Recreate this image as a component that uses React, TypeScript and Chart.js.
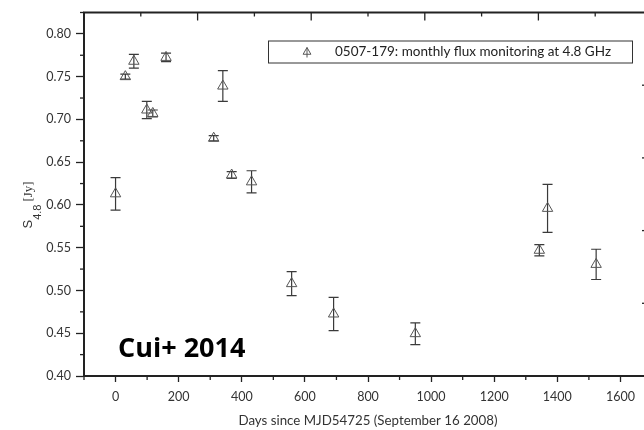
import React, { useEffect, useRef } from "react";
import { Chart, registerables } from "chart.js";

Chart.register(...registerables);

// ---- data ----
const days = [0, 31, 58, 99, 118, 160, 311, 340, 368, 431, 558, 691, 950, 1343, 1369, 1523];
const flux = [0.613, 0.75, 0.768, 0.711, 0.707, 0.7725, 0.678, 0.739, 0.635, 0.627, 0.508, 0.4725, 0.4495, 0.547, 0.596, 0.5305];
const fluxErr = [0.019, 0.003, 0.008, 0.01, 0.004, 0.005, 0.003, 0.018, 0.004, 0.013, 0.014, 0.0195, 0.0127, 0.0066, 0.028, 0.0177];

// ---- axes / ticks ----
const xMin = -100;
const xMax = 1700;
const yMin = 0.4;
const yMax = 0.825;
const xTickValues = [0, 200, 400, 600, 800, 1000, 1200, 1400, 1600];
const xMinorTicks = [-100, 100, 300, 500, 700, 900, 1100, 1300, 1500, 1700];
const yTickValues = [0.4, 0.45, 0.5, 0.55, 0.6, 0.65, 0.7, 0.75, 0.8];
const yMinorTicks = [0.425, 0.475, 0.525, 0.575, 0.625, 0.675, 0.725, 0.775, 0.825];
const topTicks = [-100, 80, 260, 440, 620, 800, 980, 1160, 1340, 1520, 1700];
const rightTicks = [0.485, 0.57, 0.655, 0.74];

const seriesLabel = "0507-179: monthly flux monitoring at 4.8 GHz";
const xTitle = "Days since MJD54725 (September 16 2008)";
const yTitleMain = "S";
const yTitleSub = "4.8";
const yTitleUnit = "[Jy]";
const annotation = "Cui+ 2014";

const FONT = "Lato, 'Open Sans', sans-serif";
const INK = "#222";

export default function App() {
  const ref = useRef<HTMLCanvasElement>(null);

  useEffect(() => {
    const canvas = ref.current;
    if (!canvas) return;

    const errorBars = {
      id: "errorBars",
      beforeDatasetsDraw(chart: any) {
        const { ctx, scales } = chart;
        const x = scales.x;
        const y = scales.y;
        ctx.save();
        ctx.strokeStyle = "#3a3a3a";
        ctx.lineWidth = 1.2;
        for (let i = 0; i < days.length; i++) {
          const px = x.getPixelForValue(days[i]);
          const pt = y.getPixelForValue(flux[i] + fluxErr[i]);
          const pb = y.getPixelForValue(flux[i] - fluxErr[i]);
          ctx.beginPath();
          ctx.moveTo(px, pt);
          ctx.lineTo(px, pb);
          ctx.moveTo(px - 5, pt);
          ctx.lineTo(px + 5, pt);
          ctx.moveTo(px - 5, pb);
          ctx.lineTo(px + 5, pb);
          ctx.stroke();
        }
        ctx.restore();
      },
    };

    const decor = {
      id: "decor",
      afterDraw(chart: any) {
        const { ctx, chartArea: a, scales } = chart;
        const x = scales.x;
        const y = scales.y;
        const line = (x1: number, y1: number, x2: number, y2: number) => {
          ctx.beginPath();
          ctx.moveTo(x1, y1);
          ctx.lineTo(x2, y2);
          ctx.stroke();
        };
        ctx.save();
        ctx.strokeStyle = INK;
        // frame top and right
        ctx.lineWidth = 2;
        ctx.beginPath();
        ctx.moveTo(a.left - 1, a.top);
        ctx.lineTo(a.right, a.top);
        ctx.lineTo(a.right, a.bottom);
        ctx.stroke();

        // minor ticks
        ctx.lineWidth = 1.3;
        xMinorTicks.forEach((v) => {
          const px = x.getPixelForValue(v);
          line(px, a.bottom, px, a.bottom + 4);
        });
        yMinorTicks.forEach((v) => {
          const py = y.getPixelForValue(v);
          line(a.left - 4, py, a.left, py);
        });
        // top axis ticks (inward)
        topTicks.forEach((v, i) => {
          const px = x.getPixelForValue(v);
          line(px, a.top, px, a.top + (i % 2 === 0 ? 8 : 4));
        });
        // right axis ticks (inward)
        rightTicks.forEach((v) => {
          const py = y.getPixelForValue(v);
          line(a.right - 10, py, a.right, py);
        });

        // legend box
        const lx = a.left + 184;
        const ly = a.top + 28;
        const lw = 364;
        const lh = 22;
        ctx.lineWidth = 1;
        ctx.strokeStyle = "#333";
        ctx.strokeRect(lx + 0.5, ly + 0.5, lw, lh);
        // legend symbol (open triangle)
        const sx = lx + 39;
        const sy = ly + lh / 2 + 0.5;
        const r = 4.5;
        ctx.strokeStyle = "#555";
        ctx.beginPath();
        ctx.moveTo(sx, sy - r);
        ctx.lineTo(sx + r * 0.866, sy + r / 2);
        ctx.lineTo(sx - r * 0.866, sy + r / 2);
        ctx.closePath();
        ctx.stroke();
        line(sx, sy - r, sx, sy + r + 1);
        ctx.fillStyle = INK;
        ctx.font = `13.5px ${FONT}`;
        ctx.textAlign = "left";
        ctx.textBaseline = "middle";
        ctx.fillText(seriesLabel, lx + 67, sy);

        // annotation
        ctx.fillStyle = "#000";
        ctx.font = `bold 27px 'Open Sans', sans-serif`;
        ctx.textBaseline = "alphabetic";
        ctx.fillText(annotation, a.left + 34, a.bottom - 19);

        // y-axis title (rotated, with subscript)
        ctx.save();
        ctx.translate(31.5, 228.5);
        ctx.rotate(-Math.PI / 2);
        ctx.fillStyle = "#333";
        ctx.textBaseline = "alphabetic";
        ctx.font = `13px 'Liberation Sans', Arial, sans-serif`;
        ctx.fillText(yTitleMain, 0, 0);
        const wS = ctx.measureText(yTitleMain).width;
        ctx.font = `11px 'Liberation Sans', Arial, sans-serif`;
        ctx.fillText(yTitleSub, wS, 9);
        const wSub = ctx.measureText(yTitleSub).width;
        ctx.font = `13px 'Liberation Serif', 'DejaVu Serif', serif`;
        ctx.fillText(yTitleUnit, wS + wSub + 3, 0);
        ctx.restore();

        ctx.restore();
      },
    };

    const chart = new Chart(canvas, {
      type: "scatter",
      data: {
        datasets: [
          {
            label: seriesLabel,
            data: days.map((d, i) => ({ x: d, y: flux[i] })),
            pointStyle: "triangle",
            pointRadius: 6,
            pointHoverRadius: 6,
            borderWidth: 1,
            borderColor: "#555",
            backgroundColor: "rgba(0,0,0,0)",
            showLine: false,
          },
        ],
      },
      options: {
        responsive: false,
        maintainAspectRatio: false,
        animation: false,
        devicePixelRatio: 1,
        layout: { padding: { top: 9, right: 8, left: 0, bottom: 0 } },
        plugins: {
          legend: { display: false },
          tooltip: { enabled: false },
        },
        scales: {
          x: {
            type: "linear",
            min: xMin,
            max: xMax,
            afterBuildTicks: (s: any) => {
              s.ticks = xTickValues.map((v) => ({ value: v }));
            },
            afterFit: (s: any) => {
              s.height = 54;
            },
            grid: {
              drawOnChartArea: false,
              drawTicks: true,
              tickLength: 6,
              tickColor: INK,
              tickWidth: 1.3,
            },
            border: { display: true, color: INK, width: 2 },
            ticks: {
              color: "#333",
              font: { family: FONT, size: 12.5 },
              padding: 7,
              maxRotation: 0,
              autoSkip: false,
              callback: (v: any) => String(v),
            },
            title: {
              display: true,
              text: xTitle,
              color: "#333",
              font: { family: FONT, size: 13.3 },
              padding: { top: 0, bottom: 1 },
            },
          },
          y: {
            type: "linear",
            min: yMin,
            max: yMax,
            afterBuildTicks: (s: any) => {
              s.ticks = yTickValues.map((v) => ({ value: v }));
            },
            afterFit: (s: any) => {
              s.width = 84;
            },
            grid: {
              drawOnChartArea: false,
              drawTicks: true,
              tickLength: 8,
              tickColor: INK,
              tickWidth: 1.3,
            },
            border: { display: true, color: INK, width: 2 },
            ticks: {
              color: "#333",
              font: { family: FONT, size: 12.5 },
              padding: 5,
              autoSkip: false,
              callback: (v: any) => Number(v).toFixed(2),
            },
          },
        },
      },
      plugins: [errorBars, decor],
    });

    return () => chart.destroy();
  }, []);

  return (
    <div
      style={{
        position: "fixed",
        left: 0,
        top: 0,
        width: 644,
        height: 430,
        overflow: "hidden",
        background: "#fff",
      }}
    >
      <canvas ref={ref} width={660} height={430} style={{ display: "block", width: 660, height: 430 }} />
    </div>
  );
}
